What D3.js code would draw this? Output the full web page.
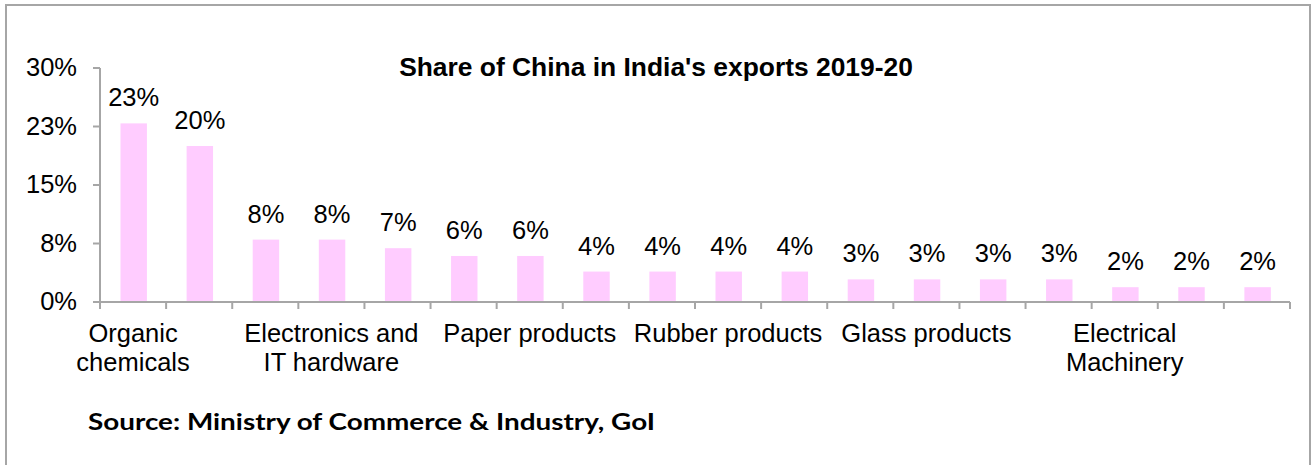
<!DOCTYPE html>
<html>
<head>
<meta charset="utf-8">
<script src="https://cdn.jsdelivr.net/npm/d3@7"></script>
<style>
  html, body { margin: 0; padding: 0; background: #fff; }
  svg { display: block; }
  text { font-family: "Liberation Sans", Arial, sans-serif; fill: #000; }
</style>
</head>
<body>
<svg id="chart" width="1313" height="465"></svg>
<script>
// ---- data ----
const title = "Share of China in India's exports 2019-20";
const source = "Source: Ministry of Commerce & Industry, GoI";
// only every third category label is shown in the reference; the others are unreadable
const categories = ["Organic chemicals", "", "", "Electronics and IT hardware", "", "",
                    "Paper products", "", "", "Rubber products", "", "",
                    "Glass products", "", "", "Electrical Machinery", "", ""];
const shares = [22.9, 20.0, 8.0, 8.0, 6.9, 5.9, 5.9, 3.9, 3.9, 3.9, 3.9,
                2.9, 2.9, 2.9, 2.9, 1.9, 1.9, 1.9];
const yTickValues = [0, 7.5, 15, 22.5, 30];
const yTickLabels = ["0%", "8%", "15%", "23%", "30%"];

// ---- layout ----
const svg = d3.select("#chart");
const W = 1313, H = 465;
const plot = { left: 100, right: 1290, top: 68, bottom: 302 };
const axisColor = "#a6a6a6";
const fontSize = 25.5;

svg.append("rect")
  .attr("x", 6).attr("y", 5).attr("width", 1304).attr("height", 475)
  .attr("fill", "#fff").attr("stroke", axisColor).attr("stroke-width", 2);

const n = categories.length;
const x = d3.scaleBand().domain(d3.range(n)).range([plot.left, plot.right]).padding(0);
const xb = d3.scaleLinear().domain([0, n]).range([plot.left, plot.right]);
const y = d3.scaleLinear().domain([0, 30]).range([plot.bottom, plot.top]);

// bars
svg.append("g").selectAll("rect")
  .data(shares)
  .join("rect")
  .attr("x", (d, i) => x(i) + x.bandwidth() * 0.31)
  .attr("width", x.bandwidth() * 0.4)
  .attr("y", d => y(d))
  .attr("height", d => y(0) - y(d))
  .attr("fill", "#ffccff");

// data labels
svg.append("g").selectAll("text")
  .data(shares)
  .join("text")
  .attr("x", (d, i) => x(i) + x.bandwidth() * 0.51)
  .attr("y", d => y(d) - 17)
  .attr("text-anchor", "middle")
  .style("font-size", fontSize + "px")
  .text(d => Math.round(d) + "%");

// y axis
const yAxis = svg.append("g")
  .attr("transform", `translate(${plot.left},0)`)
  .call(d3.axisLeft(y).tickValues(yTickValues)
    .tickFormat((d, i) => yTickLabels[i])
    .tickSize(7).tickSizeOuter(0).tickPadding(16).offset(0));
yAxis.selectAll("path, line").attr("stroke", axisColor).attr("stroke-width", 2);
yAxis.selectAll("text").style("font-size", fontSize + "px")
  .attr("font-family", null).attr("fill", "#000");
yAxis.attr("font-family", null).attr("font-size", null);

// x axis (ticks at category boundaries)
const xAxis = svg.append("g")
  .attr("transform", `translate(0,${plot.bottom})`)
  .call(d3.axisBottom(xb).tickValues(d3.range(n + 1))
    .tickFormat("").tickSize(7).tickSizeOuter(0).offset(0));
xAxis.selectAll("path, line").attr("stroke", axisColor).attr("stroke-width", 2);

// category labels (wrapped to the width of three categories)
const maxW = x.step() * 3;
const labels = svg.append("g").selectAll("text")
  .data(categories.map((c, i) => ({ c, i })).filter(d => d.c !== ""))
  .join("text")
  .attr("text-anchor", "middle")
  .style("font-size", fontSize + "px")
  .attr("x", d => x(d.i) + x.bandwidth() / 2)
  .attr("y", plot.bottom + 40);

labels.each(function(d) {
  const t = d3.select(this);
  const words = d.c.split(" ");
  let line = [];
  let tspan = t.append("tspan").attr("x", t.attr("x")).attr("dy", 0);
  words.forEach(w => {
    line.push(w);
    tspan.text(line.join(" "));
    if (tspan.node().getComputedTextLength() > maxW && line.length > 1) {
      line.pop();
      tspan.text(line.join(" "));
      line = [w];
      tspan = t.append("tspan").attr("x", t.attr("x")).attr("dy", 29).text(w);
    }
  });
});

// title
svg.append("text")
  .attr("x", 656).attr("y", 76)
  .attr("text-anchor", "middle")
  .style("font-size", "26.4px").style("font-weight", "bold")
  .text(title);

// source
svg.append("text")
  .attr("x", 88).attr("y", 430)
  .style("font-family", "Lato, 'Open Sans', sans-serif")
  .style("font-size", "23px").style("font-weight", "bold")
  .attr("textLength", 567).attr("lengthAdjust", "spacingAndGlyphs")
  .text(source);
</script>
</body>
</html>
